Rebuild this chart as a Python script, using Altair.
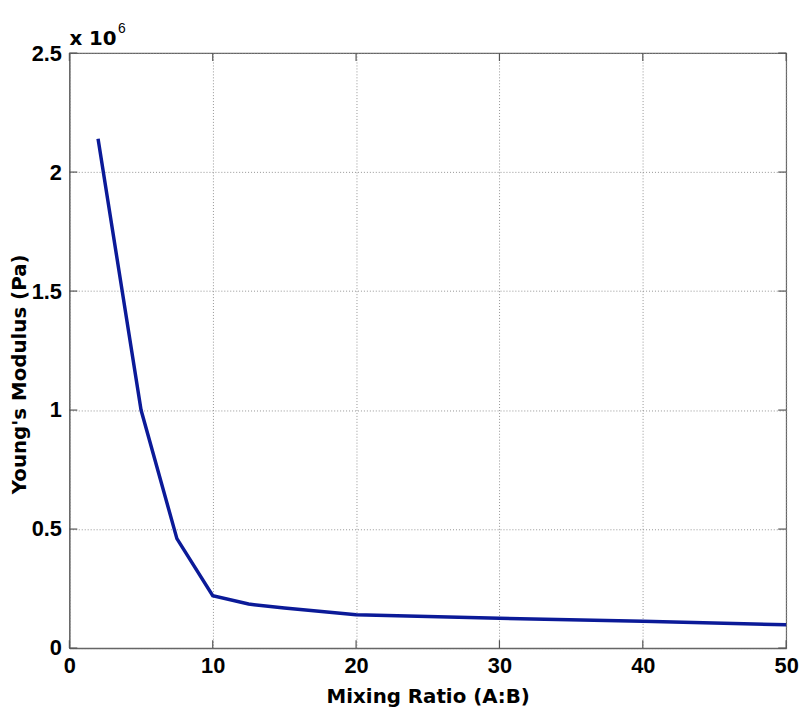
import altair as alt
import pandas as pd

# Data (Young's modulus in Pa vs mixing ratio)
mixing_ratio = [2, 5, 7.5, 10, 12.5, 15, 20, 30, 40, 50]
youngs_modulus = [2.14e6, 1.0e6, 0.46e6, 0.22e6, 0.185e6, 0.168e6, 0.14e6, 0.125e6, 0.113e6, 0.098e6]

x_ticks = [0, 10, 20, 30, 40, 50]
y_ticks = [0, 0.5e6, 1.0e6, 1.5e6, 2.0e6, 2.5e6]

W, H = 724, 601
FONT = "Liberation Sans"
TFONT = "DejaVu Sans"

df = pd.DataFrame({"ratio": mixing_ratio, "E": youngs_modulus})
xt = pd.DataFrame({"v": x_ticks})
yt = pd.DataFrame({"v": y_ticks})

xscale = alt.Scale(domain=[0, 50], nice=False, zero=False)
yscale = alt.Scale(domain=[0, 2.5e6], nice=False)

line = alt.Chart(df).mark_line(color="#0b1a98", strokeWidth=3.5).encode(
    x=alt.X("ratio:Q", scale=xscale,
            axis=alt.Axis(values=x_ticks, title="Mixing Ratio (A:B)", format="d",
                          labelFlush=False, labelPadding=8,
                          titleY=55, titleBaseline="alphabetic")),
    y=alt.Y("E:Q", scale=yscale,
            axis=alt.Axis(values=y_ticks, title="Young's Modulus (Pa)",
                          labelExpr="format(datum.value / 1e6, '~g')",
                          labelPadding=8,
                          titleX=-50, titleY=324, titleAngle=-90,
                          titleAlign="center", titleBaseline="middle")),
)

tick_style = dict(color="#555", strokeWidth=1.2)
xticks_bottom = alt.Chart(xt).mark_rule(**tick_style).encode(
    x=alt.X("v:Q", scale=xscale), y=alt.value(H), y2=alt.value(H - 8))
xticks_top = alt.Chart(xt).mark_rule(**tick_style).encode(
    x=alt.X("v:Q", scale=xscale), y=alt.value(0), y2=alt.value(8))
yticks_left = alt.Chart(yt).mark_rule(**tick_style).encode(
    y=alt.Y("v:Q", scale=yscale), x=alt.value(0), x2=alt.value(8))
yticks_right = alt.Chart(yt).mark_rule(**tick_style).encode(
    y=alt.Y("v:Q", scale=yscale), x=alt.value(W), x2=alt.value(W - 8))

exp_base = alt.Chart(pd.DataFrame({"t": ["x 10"]})).mark_text(
    font=TFONT, fontWeight="bold", fontSize=20, align="left", baseline="alphabetic", color="black"
).encode(text="t:N", x=alt.value(0), y=alt.value(-8))
exp_sup = alt.Chart(pd.DataFrame({"t": ["6"]})).mark_text(
    font=FONT, fontSize=14, align="left", baseline="alphabetic", color="black"
).encode(text="t:N", x=alt.value(49), y=alt.value(-20))

chart = alt.layer(
    xticks_bottom, xticks_top, yticks_left, yticks_right, line, exp_base, exp_sup
).properties(
    width=W, height=H,
    autosize=alt.AutoSizeParams(type="none"),
    padding={"left": 62, "top": 42, "right": 15, "bottom": 57},
    background="white",
).configure_view(
    stroke="#666", strokeWidth=1.2
).configure_axis(
    labelFont=FONT, labelFontWeight="bold", labelFontSize=22, labelColor="black",
    titleFont=TFONT, titleFontWeight="bold", titleFontSize=20, titleColor="black",
    tickSize=0, domainColor="#666", domainWidth=1.2,
    grid=True, gridColor="#888", gridDash=[1, 2], gridWidth=1, gridOpacity=0.9,
)

chart.save("out.html", embed_options={"renderer": "svg", "actions": False})
